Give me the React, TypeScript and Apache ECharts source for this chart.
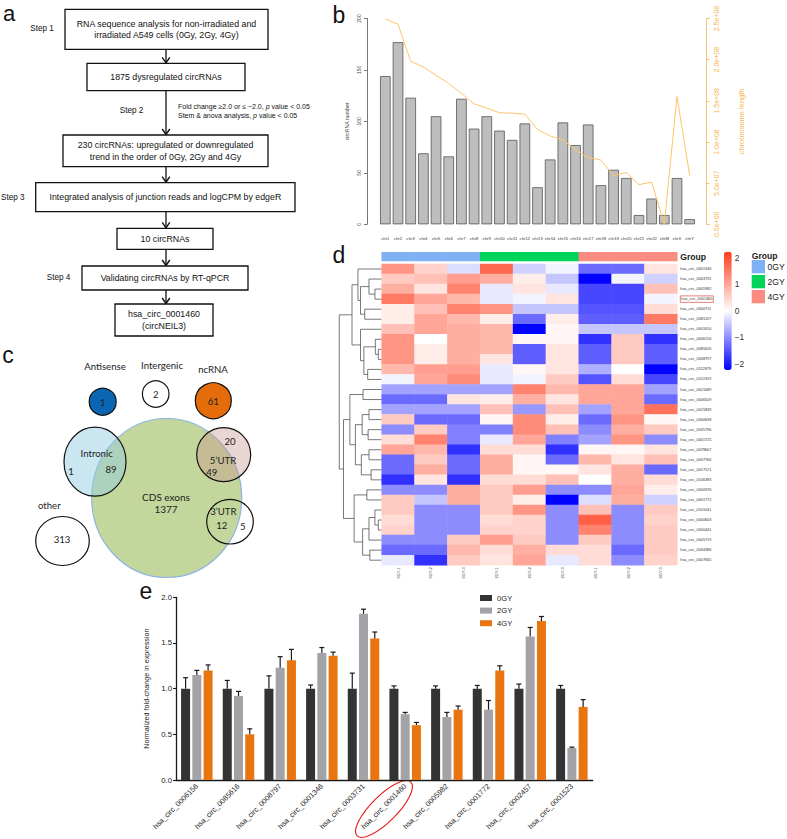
import React, { useEffect, useRef } from "react";
import * as echarts from "echarts";

// ---------- panel b ----------
const chromosomes = ["chr1","chr2","chr3","chr4","chr5","chr6","chr7","chr8","chr9","chr10","chr11","chr12","chr13","chr14","chr15","chr16","chr17","chr18","chr19","chr20","chr21","chr22","chrM","chrX","chrY"];
const circRNACounts = [144,177,123,69,105,66,122,93,105,91,82,98,36,63,99,77,97,38,53,45,9,25,9,45,5];
const chromosomeLength = [249.3e6,243.2e6,198.0e6,191.2e6,180.9e6,171.1e6,159.1e6,146.4e6,141.2e6,135.5e6,135.0e6,133.9e6,115.2e6,107.3e6,102.5e6,90.4e6,81.2e6,78.1e6,59.1e6,63.0e6,48.1e6,51.3e6,0.02e6,155.3e6,59.4e6];

// ---------- panel d ----------
const sampleNames = ["0GY-1","0GY-2","0GY-3","2GY-1","2GY-2","2GY-3","4GY-1","4GY-2","4GY-3"];
const sampleGroups = [0,0,0,1,1,1,2,2,2];
const groupNames = ["0GY","2GY","4GY"];
const heatmapRows = ["hsa_circ_0001346","hsa_circ_0003731","hsa_circ_0005982","hsa_circ_0001460","hsa_circ_0000711","hsa_circ_0081207","hsa_circ_0001610","hsa_circ_0006156","hsa_circ_0085616","hsa_circ_0008797","hsa_circ_0112879","hsa_circ_0122319","hsa_circ_0021089","hsa_circ_0006509","hsa_circ_0015839","hsa_circ_0000638","hsa_circ_0035796","hsa_circ_0001725","hsa_circ_0078607","hsa_circ_0007766","hsa_circ_0017521","hsa_circ_0106383","hsa_circ_0000976","hsa_circ_0001772","hsa_circ_0101041","hsa_circ_0000603","hsa_circ_0000441","hsa_circ_0005719","hsa_circ_0044386","hsa_circ_0007665"];
const heatmapValues = [
  [1.2,0.5,-0.3,1.7,-0.4,-0.1,-1.3,-1.3,0.3],
  [0.6,0.7,1.1,0.9,0.2,-0.5,-2.2,-0.1,-0.4],
  [0.9,0.3,1.4,-0.2,0.3,-0.2,-1.6,-1.6,0.7],
  [1.5,1.0,0.8,-0.2,-0.1,0.3,-1.6,-1.6,-0.1],
  [0.2,0.7,1.4,1.2,-0.5,-0.5,-1.5,-1.5,0.4],
  [0.2,1.0,0.8,0.2,-1.3,0.2,-1.4,-1.4,1.5],
  [0.7,1.0,0.9,0.8,-2.2,0.1,-0.5,-0.5,-0.5],
  [1.2,0.0,0.9,0.8,0.1,0.1,-1.8,0.6,-1.8],
  [1.2,0.2,0.9,0.8,-1.4,0.3,-1.4,0.6,-1.4],
  [1.2,0.2,0.9,0.3,-1.4,0.3,-1.4,0.6,-1.4],
  [0.8,1.1,1.1,-0.2,0.1,0.3,-0.7,0.0,-2.2],
  [-0.1,1.0,1.3,-0.2,-0.1,0.6,-1.5,0.4,-1.6],
  [-0.8,-0.8,-0.8,-0.8,1.4,0.8,1.0,1.0,-0.8],
  [-1.3,-1.3,0.3,0.2,0.9,0.3,1.0,1.0,-1.3],
  [-0.8,-0.8,-0.8,0.7,-0.9,0.7,-0.8,1.0,1.6],
  [0.6,-1.3,-1.3,0.1,1.3,0.2,-1.3,1.2,0.1],
  [-1.0,0.6,-1.1,-1.1,1.3,0.7,-1.0,0.9,0.6],
  [0.4,1.4,-1.1,-0.2,1.0,-1.1,-0.8,1.2,-1.0],
  [1.0,0.8,-1.8,0.4,0.4,-1.8,0.1,0.1,0.3],
  [-1.3,0.6,-1.3,0.9,0.1,-1.3,0.8,0.3,0.7],
  [-1.3,0.9,-1.3,0.9,0.1,0.1,0.3,0.9,-1.3],
  [-1.8,0.3,-1.8,0.4,0.4,0.7,0.0,0.9,0.4],
  [-1.0,-1.0,0.9,0.6,1.1,-1.0,-1.0,1.0,0.2],
  [0.6,-0.5,0.9,0.6,0.2,-2.2,-0.3,0.9,-0.4],
  [0.6,-1.0,-1.0,0.6,1.2,-1.0,0.7,-1.0,0.6],
  [0.4,-1.0,-1.0,0.4,0.5,-1.0,1.8,-1.0,0.5],
  [0.5,-1.0,-1.0,0.5,0.5,-1.0,1.4,-1.0,0.6],
  [-1.0,-1.0,0.6,1.1,0.6,-1.0,0.6,-1.0,0.6],
  [-1.3,-1.3,0.8,0.4,0.9,0.4,0.4,-1.3,0.6],
  [-0.2,-1.8,0.6,0.3,1.0,-0.2,0.4,-1.0,0.5],
];
const highlightedRow = "hsa_circ_0001460";
const colorScaleTicks = [-2,-1,0,1,2];
// dendrogram merges: "rN" = row N, "mK" = merge K; third item = height
const dendroMerges: [string,string,number][] = [
  ["r2","r3",1.6],["r1","m0",3.0],["r4","r5",4.0],["m1","m2",5.0],["r0","m3",5.6],
  ["r8","r9",0.8],["r7","m5",1.5],["r10","r11",3.3],["m6","m7",4.2],["r6","m8",5.0],
  ["m4","m9",7.0],
  ["r12","r13",4.4],["r14","r15",3.0],["r16","r17",3.2],["m12","m13",4.6],["r18","r19",3.0],
  ["r20","r21",2.5],["m15","m16",4.8],["m14","m17",6.2],["m11","m18",7.5],["r22","r23",3.5],
  ["r25","r26",0.8],["r24","m21",1.6],["m22","r27",3.0],["r28","r29",2.8],["m23","m24",4.5],
  ["m20","m25",6.5],["m19","m26",9.0],["m10","m27",10.0],
];

// ---------- panel e ----------
const qpcrCircRNAs = ["hsa_circ_0006156","hsa_circ_0085616","hsa_circ_0008797","hsa_circ_0001346","hsa_circ_0003731","hsa_circ_0001460","hsa_circ_0005982","hsa_circ_0001772","hsa_circ_0002457","hsa_circ_0001523"];
const expr0GY = [1.0,1.0,1.0,1.0,1.0,1.0,1.0,1.0,1.0,1.0];
const expr2GY = [1.15,0.92,1.23,1.39,1.82,0.72,0.69,0.77,1.57,0.35];
const expr4GY = [1.20,0.50,1.31,1.36,1.55,0.60,0.77,1.20,1.74,0.80];
const err0GY = [0.12,0.09,0.14,0.04,0.17,0.03,0.03,0.035,0.05,0.035];
const err2GY = [0.05,0.05,0.12,0.06,0.05,0.02,0.05,0.10,0.10,0.01];
const err4GY = [0.06,0.06,0.12,0.04,0.07,0.03,0.04,0.05,0.05,0.08];

// ---------- panel a / c texts ----------
const flowSteps = [
  "RNA sequence analysis for non-irradiated and\nirradiated A549 cells (0Gy, 2Gy, 4Gy)",
  "1875 dysregulated circRNAs",
  "230 circRNAs: upregulated or downregulated\ntrend in the order of 0Gy, 2Gy and 4Gy",
  "Integrated analysis of junction reads and logCPM by edgeR",
  "10 circRNAs",
  "Validating circRNAs by RT-qPCR",
  "hsa_circ_0001460\n(circNEIL3)",
];
const stepLabels = ["Step 1","Step 2","Step 3","Step 4"];
const vennLabels = ["Antisense","Intergenic","ncRNA","Intronic","CDS exons","5\u2019UTR","3\u2019UTR","other"];
const vennCounts = { antisense: 1, intergenic: 2, ncRNA: 61, intronicOnly: 1, intronicCDS: 89, cds: 1377, utr5Only: 20, utr5CDS: 49, utr3CDS: 12, utr3Only: 5, other: 313 };

const FONT = "Liberation Sans, Arial, Helvetica, sans-serif";
const FONT_C = "Lato, Carlito, sans-serif";

const groupColors = ["#7fb2f5", "#00d45a", "#f98b80"];
const heatColors = ["#0000ff", "#ffffff", "#ff3a1a"];
const barColors = ["#333333", "#a3a3a7", "#e8750f"];

function sci(v: number) {
  if (v === 0) return "0.0e+00";
  const e = Math.floor(Math.log10(v) + 1e-9);
  const m = v / Math.pow(10, e);
  return `${m.toFixed(1)}e+${String(e).padStart(2, "0")}`;
}

function txt(x: number, y: number, text: string, size: number, extra: any = {}) {
  return {
    type: "text", x, y, silent: true,
    style: { text, fontSize: size, fontFamily: FONT, fill: "#111", textAlign: "center", textVerticalAlign: "middle", lineHeight: size * 1.35, ...extra },
  };
}

function buildGraphics() {
  const g: any[] = [];
  // panel letters
  g.push(txt(3, 2, "a", 22, { textAlign: "left", textVerticalAlign: "top", lineHeight: 22 }));
  g.push(txt(339, 15, "b", 23));
  g.push(txt(8, 355, "c", 23));
  g.push(txt(339, 255, "d", 23));
  g.push(txt(146, 591, "e", 23));

  // panel a flowchart
  const boxes = [
    [65, 9.3, 203, 40], [87, 63.3, 158, 27.4], [63, 135, 205, 31.7], [35.7, 182.7, 259.3, 29],
    [117, 228.3, 96, 21], [82, 266, 166, 24], [115, 304, 98, 32],
  ];
  const cx = 166;
  boxes.forEach((b, i) => {
    g.push({ type: "rect", shape: { x: b[0], y: b[1], width: b[2], height: b[3] }, style: { fill: "#fff", stroke: "#111", lineWidth: 1.3 } });
    g.push(txt(b[0] + b[2] / 2, b[1] + b[3] / 2, flowSteps[i], 8.8, { lineHeight: 11.4 }));
    if (i < boxes.length - 1) {
      const y1 = b[1] + b[3];
      const y2 = boxes[i + 1][1];
      g.push({ type: "polyline", shape: { points: [[cx, y1], [cx, y2 - 0.5]] }, style: { stroke: "#111", lineWidth: 1.3, fill: null } });
      g.push({ type: "polyline", shape: { points: [[cx - 3.8, y2 - 6], [cx, y2 - 0.5], [cx + 3.8, y2 - 6]] }, style: { stroke: "#111", lineWidth: 1.4, fill: null } });
    }
  });
  g.push(txt(42, 28.7, stepLabels[0], 8.2));
  g.push(txt(131.5, 110, stepLabels[1], 8.2));
  g.push(txt(1, 197.7, stepLabels[2], 8.2, { textAlign: "left" }));
  g.push(txt(58.5, 277.7, stepLabels[3], 8.2));
  g.push({
    type: "text", x: 178, y: 106, silent: true,
    style: { text: "Fold change \u22652.0 or \u2264 \u22122.0, {i|p} value < 0.05", fontSize: 7, fontFamily: FONT, fill: "#111", textAlign: "left", textVerticalAlign: "middle",
      rich: { i: { fontStyle: "italic", fontSize: 7, fontFamily: FONT } } },
  });
  g.push({
    type: "text", x: 178, y: 115.3, silent: true,
    style: { text: "Stem & anova analysis, {i|p} value < 0.05", fontSize: 7, fontFamily: FONT, fill: "#111", textAlign: "left", textVerticalAlign: "middle",
      rich: { i: { fontStyle: "italic", fontSize: 7, fontFamily: FONT } } },
  });

  // panel c venn
  const ct = (x: number, y: number, t: string, s = 9.6) => txt(x, y, t, s, { fontFamily: FONT_C, fill: "#222" });
  g.push(ct(105, 366.7, vennLabels[0]));
  g.push(ct(162, 365, vennLabels[1]));
  g.push(ct(213, 369, vennLabels[2]));
  g.push({ type: "circle", shape: { cx: 102.7, cy: 401.7, r: 13.5 }, style: { fill: "#0a66b3", stroke: "#111", lineWidth: 1.2 } });
  g.push(ct(102.7, 402, String(vennCounts.antisense)));
  g.push({ type: "circle", shape: { cx: 155.7, cy: 394, r: 13.3 }, style: { fill: "#fff", stroke: "#111", lineWidth: 1.2 } });
  g.push(ct(155.7, 394, String(vennCounts.intergenic)));
  g.push({ type: "circle", shape: { cx: 213.3, cy: 400.7, r: 18 }, style: { fill: "#e46c0a", stroke: "#111", lineWidth: 1.2 } });
  g.push(ct(213.3, 401, String(vennCounts.ncRNA)));
  g.push({ type: "ellipse", shape: { cx: 166.7, cy: 498, rx: 75, ry: 79.5 }, style: { fill: "#c3d69b", stroke: "#8db3e2", lineWidth: 1.2 } });
  g.push({ type: "ellipse", shape: { cx: 95, cy: 461.7, rx: 31, ry: 34.5 }, style: { fill: "rgba(150,205,225,0.5)", stroke: "#111", lineWidth: 1.2 } });
  g.push({ type: "ellipse", shape: { cx: 223.7, cy: 454.7, rx: 27, ry: 27 }, style: { fill: "rgba(200,150,140,0.4)", stroke: "#111", lineWidth: 1.2 } });
  g.push({ type: "ellipse", shape: { cx: 230, cy: 521.7, rx: 23.3, ry: 22.3 }, style: { fill: null, stroke: "#111", lineWidth: 1.2 } });
  g.push({ type: "ellipse", shape: { cx: 62.5, cy: 541, rx: 26.8, ry: 24.5 }, style: { fill: "#fff", stroke: "#111", lineWidth: 1.2 } });
  g.push(ct(96.7, 453, vennLabels[3]));
  g.push(ct(71, 471.7, String(vennCounts.intronicOnly)));
  g.push(ct(111, 469, String(vennCounts.intronicCDS)));
  g.push(ct(166, 496.7, vennLabels[4], 10));
  g.push(ct(166, 508.5, String(vennCounts.cds), 10));
  g.push(ct(230, 441.7, String(vennCounts.utr5Only)));
  g.push(ct(223, 460, vennLabels[5]));
  g.push(ct(211.7, 472.3, String(vennCounts.utr5CDS)));
  g.push(ct(223.3, 511.7, vennLabels[6]));
  g.push(ct(221.7, 525, String(vennCounts.utr3CDS)));
  g.push(ct(242.7, 526, String(vennCounts.utr3Only)));
  g.push(ct(49.3, 505, vennLabels[7]));
  g.push(ct(62, 539.3, String(vennCounts.other)));

  // panel d group legend
  g.push(txt(751.7, 255.5, "Group", 8.6, { textAlign: "left", fontWeight: "bold", fill: "#222" }));
  groupNames.forEach((n, i) => {
    g.push({ type: "rect", shape: { x: 751.7, y: 260 + i * 15, width: 13.3, height: 13.3 }, style: { fill: groupColors[i] } });
    g.push(txt(767.5, 266.7 + i * 15, n, 8.6, { textAlign: "left", fill: "#222" }));
  });

  // panel e red ellipse
  g.push({ type: "ellipse", x: 384, y: 809, rotation: Math.PI / 4, shape: { cx: 0, cy: 0, rx: 38, ry: 13 }, style: { fill: null, stroke: "#e52420", lineWidth: 1.2 } });
  return g;
}

function buildOption(): any {
  const heatData: number[][] = [];
  heatmapValues.forEach((row, r) => row.forEach((v, c) => heatData.push([c, r, v])));
  const annData = sampleGroups.map((grp, c) => [c, 0, grp]);

  const nodeY: number[] = [];
  const nodeH: number[] = [];
  const segs: number[][] = [];
  const pos = (id: string) => (id[0] === "r" ? [0, +id.slice(1)] : [nodeH[+id.slice(1)], nodeY[+id.slice(1)]]);
  dendroMerges.forEach(([a, b, h], k) => {
    const [ha, ya] = pos(a);
    const [hb, yb] = pos(b);
    segs.push([ha, ya, h, ya], [hb, yb, h, yb], [h, ya, h, yb]);
    nodeY[k] = (ya + yb) / 2;
    nodeH[k] = h;
  });

  const exprs = [expr0GY, expr2GY, expr4GY];
  const errs = [err0GY, err2GY, err4GY];
  const errData: number[][] = [];
  exprs.forEach((arr, s) => arr.forEach((v, i) => errData.push([i, v, v + errs[s][i], s])));
  const BAR_W = 9;
  const BAR_STEP = 11.25;

  const hidden = { show: false };
  const gridBase = { outerBoundsMode: "none", containLabel: false };

  return {
    animation: false,
    backgroundColor: "#fff",
    textStyle: { fontFamily: FONT },
    grid: [
      { ...gridBase, left: 379, top: 18.5, width: 317, height: 205.8 },
      { ...gridBase, left: 338, top: 264, width: 43.7, height: 301.2 },
      { ...gridBase, left: 381.7, top: 264, width: 295.6, height: 301.2 },
      { ...gridBase, left: 381.7, top: 252.3, width: 295.6, height: 8.7 },
      { ...gridBase, left: 724, top: 251.7, width: 7.7, height: 118.3 },
      { ...gridBase, left: 176, top: 597.3, width: 416.7, height: 182.7 },
    ],
    xAxis: [
      { type: "category", gridIndex: 0, data: chromosomes, axisLine: hidden, axisTick: hidden, splitLine: hidden,
        axisLabel: { interval: 0, fontSize: 4.2, color: "#333", margin: 12 } },
      { type: "value", gridIndex: 1, min: 0, max: 10.3, inverse: true, show: false, splitLine: hidden },
      { type: "category", gridIndex: 2, data: sampleNames, axisLine: hidden, axisTick: hidden, splitLine: hidden,
        axisLabel: { interval: 0, rotate: 90, fontSize: 4, color: "#333", margin: 2 } },
      { type: "category", gridIndex: 3, data: sampleNames, show: false },
      { type: "value", gridIndex: 4, min: 0, max: 1, show: false },
      { type: "category", gridIndex: 5, data: qpcrCircRNAs,
        axisLine: { lineStyle: { color: "#1a1a1a", width: 1.3 } },
        axisTick: { alignWithLabel: true, length: 3, lineStyle: { color: "#1a1a1a", width: 1.1 } },
        axisLabel: { interval: 0, rotate: 45, fontSize: 7.4, color: "#222", margin: 5 }, splitLine: hidden },
    ],
    yAxis: [
      { type: "value", gridIndex: 0, min: 0, max: 200, interval: 50, offset: 12,
        axisLine: { show: true, lineStyle: { color: "#555", width: 0.8 } },
        axisTick: { show: true, length: 3, lineStyle: { color: "#555", width: 0.8 } },
        axisLabel: { rotate: 90, fontSize: 5, color: "#444", margin: 6 }, splitLine: hidden,
        name: "circRNA number", nameLocation: "middle", nameRotate: 90, nameGap: 18,
        nameTextStyle: { fontSize: 5.2, color: "#444" } },
      { type: "value", gridIndex: 0, position: "right", min: 0, max: 2.5e8, interval: 5e7, offset: 10.7,
        axisLine: { show: true, lineStyle: { color: "#f7b54c", width: 0.8 } },
        axisTick: { show: true, length: 3, lineStyle: { color: "#f7b54c", width: 0.8 } },
        axisLabel: { rotate: 90, fontSize: 7, color: "#f7b54c", margin: 6, formatter: (v: number) => sci(v) }, splitLine: hidden,
        name: "chromosome length", nameLocation: "middle", nameRotate: 90, nameGap: 31,
        nameTextStyle: { fontSize: 7.5, color: "#f7b54c" } },
      { type: "value", gridIndex: 1, min: -0.5, max: 29.5, inverse: true, show: false, splitLine: hidden },
      { type: "category", gridIndex: 2, data: heatmapRows, inverse: true, position: "right",
        axisLine: hidden, axisTick: hidden, splitLine: hidden,
        axisLabel: { interval: 0, fontSize: 3.8, color: "#333", margin: 3,
          formatter: (v: string) => (v === highlightedRow ? `{hl|${v}}` : v),
          rich: { hl: { fontSize: 3.8, color: "#333", borderColor: "#e04a40", borderWidth: 0.7, padding: [1.5, 1, 1, 1] } } } },
      { type: "category", gridIndex: 3, data: ["Group"], position: "right", axisLine: hidden, axisTick: hidden, splitLine: hidden,
        axisLabel: { fontSize: 8.6, fontWeight: "bold", color: "#222", margin: 3 } },
      { type: "value", gridIndex: 4, position: "right", min: -2.22, max: 2.22,
        axisLine: hidden, axisTick: hidden, splitLine: hidden,
        axisLabel: { customValues: colorScaleTicks, fontSize: 8.4, color: "#333", margin: 3,
          formatter: (v: number) => String(v).replace("-", "\u2212") } },
      { type: "value", gridIndex: 5, min: 0, max: 2, interval: 0.5,
        axisLine: { show: true, lineStyle: { color: "#1a1a1a", width: 1.3 } },
        axisTick: { show: true, length: 3, lineStyle: { color: "#1a1a1a", width: 1.1 } },
        axisLabel: { fontSize: 7.8, color: "#222", margin: 4, formatter: (v: number) => v.toFixed(1) }, splitLine: hidden,
        name: "Normalized fold-change in expression", nameLocation: "middle", nameRotate: 90, nameGap: 21,
        nameTextStyle: { fontSize: 7.2, color: "#222" } },
    ],
    visualMap: [
      { type: "continuous", seriesIndex: 3, dimension: 2, min: -2.22, max: 2.22, inRange: { color: heatColors },
        left: 724, top: 251.7, itemWidth: 7.7, itemHeight: 118.3, calculable: false, padding: 0, hoverLink: false,
        text: ["", ""], textGap: 0 },
      { type: "piecewise", seriesIndex: 4, dimension: 2, show: false,
        pieces: groupColors.map((c, i) => ({ value: i, color: c })) },
    ],
    legend: {
      data: groupNames, orient: "vertical", left: 480, top: 594, itemWidth: 12, itemHeight: 6, itemGap: 4.6,
      icon: "rect", textStyle: { fontSize: 7.6, color: "#222", fontFamily: FONT }, selectedMode: false, padding: 0,
    },
    series: [
      { type: "bar", xAxisIndex: 0, yAxisIndex: 0, data: circRNACounts, barWidth: 10.6,
        itemStyle: { color: "#bebebe", borderColor: "#555", borderWidth: 0.8 } },
      { type: "line", xAxisIndex: 0, yAxisIndex: 1, data: chromosomeLength, symbol: "none",
        lineStyle: { color: "#ffc46a", width: 1 } },
      { type: "custom", xAxisIndex: 1, yAxisIndex: 2, data: segs, encode: { x: [0, 2], y: [1, 3] }, clip: false,
        renderItem: (_p: any, api: any) => {
          const p1 = api.coord([api.value(0), api.value(1)]);
          const p2 = api.coord([api.value(2), api.value(3)]);
          return { type: "line", shape: { x1: p1[0], y1: p1[1], x2: p2[0], y2: p2[1] }, style: { stroke: "#555", lineWidth: 0.8 } };
        } },
      { type: "heatmap", xAxisIndex: 2, yAxisIndex: 3, data: heatData, itemStyle: { borderWidth: 0 } },
      { type: "heatmap", xAxisIndex: 3, yAxisIndex: 4, data: annData, itemStyle: { borderWidth: 0 } },
      ...groupNames.map((n, s) => ({
        type: "bar", name: n, xAxisIndex: 5, yAxisIndex: 6, data: exprs[s], barWidth: BAR_W, barGap: "25%",
        itemStyle: { color: barColors[s] },
      })),
      { type: "custom", xAxisIndex: 5, yAxisIndex: 6, data: errData, encode: { x: 0, y: [1, 2] }, z: 5,
        renderItem: (_p: any, api: any) => {
          const i = api.value(0);
          const base = api.coord([i, api.value(1)]);
          const top = api.coord([i, api.value(2)]);
          const x = base[0] + (api.value(3) - 1) * BAR_STEP;
          const st = { stroke: "#1a1a1a", lineWidth: 1.2 };
          return { type: "group", children: [
            { type: "line", shape: { x1: x, y1: base[1], x2: x, y2: top[1] }, style: st },
            { type: "line", shape: { x1: x - 2.5, y1: top[1], x2: x + 2.5, y2: top[1] }, style: st },
          ] };
        } },
    ],
    graphic: buildGraphics(),
  };
}

export default function App() {
  const ref = useRef<HTMLDivElement>(null);
  useEffect(() => {
    if (!ref.current) return;
    const chart = echarts.init(ref.current, null, { renderer: "svg" });
    chart.setOption(buildOption());
    return () => chart.dispose();
  }, []);
  return <div ref={ref} style={{ position: "absolute", left: 0, top: 0, width: 787, height: 839, background: "#fff" }} />;
}
